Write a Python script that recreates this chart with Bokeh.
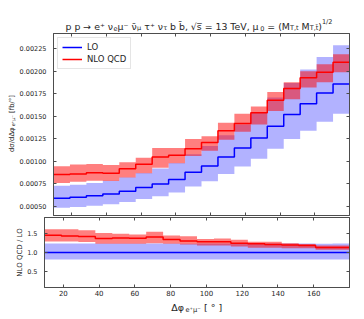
import numpy as np
from bokeh.plotting import figure
from bokeh.layouts import column, row
from bokeh.models import (Range1d, FixedTicker, LinearAxis, PrintfTickFormatter,
                          CustomJSTickFormatter, Label, Legend, LegendItem)
from bokeh.embed import file_html
from bokeh.resources import INLINE

# ---------------- data ----------------
edges = [9.47, 18.95, 28.42, 37.89, 47.37, 56.84, 66.32, 75.79, 85.26, 94.74,
         104.21, 113.68, 123.16, 132.63, 142.11, 151.58, 161.05, 170.53, 180.0]

lo = [0.000592, 0.000603, 0.000619, 0.000640, 0.000670, 0.000710, 0.000750, 0.000800, 0.000880,
      0.000950, 0.001050, 0.001150, 0.001260, 0.001390, 0.001520, 0.001640, 0.001760, 0.001860]
lo_up = [0.000730, 0.000742, 0.000762, 0.000787, 0.000824, 0.000873, 0.000923, 0.000984, 0.001080,
         0.001170, 0.001290, 0.001410, 0.001550, 0.001710, 0.001870, 0.002020, 0.002160, 0.002290]
lo_dn = [0.000486, 0.000494, 0.000508, 0.000525, 0.000549, 0.000582, 0.000615, 0.000656, 0.000722,
         0.000779, 0.000861, 0.000943, 0.001030, 0.001140, 0.001250, 0.001340, 0.001440, 0.001530]

nlo = [0.000855, 0.000860, 0.000875, 0.000870, 0.000920, 0.000970, 0.001050, 0.001070, 0.001140,
       0.001210, 0.001340, 0.001420, 0.001540, 0.001680, 0.001810, 0.001930, 0.001990, 0.002100]
nlo_up = [0.000947, 0.000965, 0.000972, 0.000960, 0.000992, 0.001040, 0.001150, 0.001150, 0.001250,
          0.001280, 0.001430, 0.001530, 0.001610, 0.001770, 0.001880, 0.002000, 0.002080, 0.002190]
nlo_dn = [0.000761, 0.000775, 0.000786, 0.000784, 0.000821, 0.000870, 0.000930, 0.000980, 0.001060,
          0.001120, 0.001240, 0.001330, 0.001410, 0.001560, 0.001690, 0.001820, 0.001880, 0.001990]

x_ticks = [20, 40, 60, 80, 100, 120, 140, 160]
y_ticks_top = [0.0005, 0.00075, 0.001, 0.00125, 0.0015, 0.00175, 0.002, 0.00225]
y_ticks_ratio = [0.5, 1.0, 1.5]

# ---------------- styling ----------------
FONT = "DejaVu Sans"
AX = "#4d4d4d"
TXT = "#262626"
BLUE = "#0000ff"
RED = "#ff0000"

CW = {' ': .318, '(': .390, ')': .390, '+': .838, ',': .318, '-': .361, '.': .318, '/': .337,
      '=': .838, 'C': .698, 'D': .770, 'L': .557, 'M': .863, 'N': .748, 'O': .787, 'Q': .787,
      'T': .611, 'V': .684, '[': .390, ']': .390, 'b': .635, 'd': .635, 'e': .615, 'f': .352,
      'p': .635, 's': .521, 't': .392, 'ν': .592, 'μ': .636, 'τ': .579, 'σ': .634, 'Δ': .684,
      'φ': .800, '→': .838, '√': .636, '⁺': .540, '⁻': .540, '°': .500, '\u0304': 0.0,
      '\u0305': 0.0}


def em(text):
    return sum(CW.get(c, .636) for c in text)


def piece_em(pieces):
    return sum(em(t) * (1.0 if k == 'n' else 0.7) for t, k in pieces)


def rich(fig, pieces, x, y, size, angle=0.0):
    pos = 0.0
    for t, k in pieces:
        fs = size if k == 'n' else size * 0.7
        shift = 0.0 if k == 'n' else (-0.22 * size if k == 'sub' else 0.40 * size)
        lead = len(t) - len(t.lstrip(' '))
        trail = len(t) - len(t.rstrip(' '))
        core = t.strip(' ')
        pos += lead * CW[' '] * fs
        if angle == 0.0:
            lx, ly = x + pos, y + shift
        else:
            lx, ly = x - shift, y + pos
        fig.add_layout(Label(x=lx, y=ly, x_units="screen", y_units="screen", text=core,
                             text_font=FONT, text_font_size=f"{fs:.2f}px", text_color=TXT,
                             angle=angle, text_align="left", text_baseline="alphabetic"))
        pos += em(core) * fs + trail * CW[' '] * fs


def axis(ticker, fmt=None, size="6.5px", standoff=7):
    if fmt is None:
        ax = LinearAxis(ticker=ticker, formatter=CustomJSTickFormatter(code="return ''"))
        ax.major_label_standoff = 0
        ax.major_label_text_font_size = "1px"
    else:
        ax = LinearAxis(ticker=ticker, formatter=fmt)
        ax.major_label_standoff = standoff
        ax.major_label_text_font_size = size
    ax.major_label_text_font = FONT
    ax.major_label_text_color = TXT
    ax.major_tick_in = 3
    ax.major_tick_out = 0
    ax.minor_tick_line_color = None
    ax.axis_line_color = AX
    ax.major_tick_line_color = AX
    ax.axis_line_width = 1
    return ax


def strip(width, height, left=0, right=0):
    f = figure(width=width, height=height, output_backend="svg", toolbar_location=None,
               x_axis_location=None, y_axis_location=None,
               min_border_left=left, min_border_right=right, min_border_top=0, min_border_bottom=0)
    f.outline_line_color = None
    f.grid.visible = False
    return f


def step(v):
    return list(v) + [v[-1]]


XR = (edges[0], edges[-1])

# ---------------- title strip ----------------
tfig = strip(364, 32, left=44, right=15)
title_pieces = [("p p → e⁺ ν", 'n'), ("e", 'sub'), ("μ⁻ ν\u0304", 'n'), ("μ", 'sub'),
                (" τ⁺ ν", 'n'), ("τ", 'sub'), (" b b\u0304, √s\u0305 = 13 TeV, μ", 'n'),
                ("0", 'sub'), (" = (M", 'n'), ("T,t", 'sub'), (" M", 'n'), ("T,t\u0304", 'sub'),
                (")", 'n'), ("1/2", 'sup')]
tsize = 267.0 / piece_em(title_pieces)
rich(tfig, title_pieces, 154.5 - piece_em(title_pieces) * tsize / 2, 6.5, tsize)

# ---------------- y-label strip ----------------
yfig = strip(16, 184)
ylab = [("dσ/dΔφ", 'n'), ("e⁺μ⁻", 'sub'), (" [fb/°]", 'n')]
ysize = 57.0 / piece_em(ylab)
rich(yfig, ylab, 11.5, 92 - piece_em(ylab) * ysize / 2, ysize, angle=np.pi / 2)

# ---------------- top panel ----------------
p = figure(width=348, height=184, x_range=Range1d(*XR), y_range=Range1d(0.0004, 0.00242),
           output_backend="svg", toolbar_location=None,
           x_axis_location=None, y_axis_location=None,
           min_border_left=28, min_border_right=15, min_border_top=1, min_border_bottom=1)
p.outline_line_color = AX
p.outline_line_width = 1
p.grid.visible = False

xt = FixedTicker(ticks=x_ticks)
yt = FixedTicker(ticks=y_ticks_top)
p.add_layout(axis(yt, PrintfTickFormatter(format="%.5f"), size="6.5px", standoff=7), "left")
p.add_layout(axis(yt), "right")
p.add_layout(axis(xt), "below")
p.add_layout(axis(xt), "above")

p.varea_step(x=edges, y1=step(lo_dn), y2=step(lo_up), step_mode="after",
             fill_color=BLUE, fill_alpha=0.3)
r_lo = p.step(x=edges, y=step(lo), mode="after", line_color=BLUE, line_width=1.5)
p.varea_step(x=edges, y1=step(nlo_dn), y2=step(nlo_up), step_mode="after",
             fill_color=RED, fill_alpha=0.5)
r_nlo = p.step(x=edges, y=step(nlo), mode="after", line_color=RED, line_width=1.5)

leg = Legend(items=[LegendItem(label="LO", renderers=[r_lo]),
                    LegendItem(label="NLO QCD", renderers=[r_nlo])],
             location="top_left")
leg.margin = 4
leg.padding = 4
leg.spacing = 2
leg.glyph_width = 20
leg.glyph_height = 10
leg.label_height = 10
leg.label_standoff = 5
leg.label_text_font = FONT
leg.label_text_font_size = "8.5px"
leg.label_text_color = TXT
leg.border_line_color = "#cccccc"
leg.border_line_width = 1
leg.background_fill_alpha = 0.9
p.add_layout(leg)

# ---------------- ratio panel ----------------
q = figure(width=364, height=82, x_range=p.x_range, y_range=Range1d(0.1, 1.9),
           output_backend="svg", toolbar_location=None,
           x_axis_location=None, y_axis_location=None,
           min_border_left=44, min_border_right=15, min_border_top=1, min_border_bottom=11)
q.outline_line_color = AX
q.outline_line_width = 1
q.grid.visible = False

rt = FixedTicker(ticks=y_ticks_ratio)
ly = axis(rt, PrintfTickFormatter(format="%.1f"), size="6.5px", standoff=7)
ly.axis_label = "NLO QCD / LO"
ly.axis_label_text_font = FONT
ly.axis_label_text_font_size = "7px"
ly.axis_label_text_font_style = "normal"
ly.axis_label_text_color = TXT
ly.axis_label_standoff = 0
q.add_layout(ly, "left")
q.add_layout(axis(rt), "right")
q.add_layout(axis(xt, PrintfTickFormatter(format="%d"), size="7px", standoff=2), "below")
q.add_layout(axis(xt), "above")

lo_a = np.array(lo)
r_c = np.array(nlo) / lo_a
r_up = np.array(nlo_up) / lo_a
r_dn = np.array(nlo_dn) / lo_a
l_c = lo_a / lo_a
l_up = np.array(lo_up) / lo_a
l_dn = np.array(lo_dn) / lo_a

q.varea_step(x=edges, y1=step(l_dn), y2=step(l_up), step_mode="after",
             fill_color=BLUE, fill_alpha=0.3)
q.step(x=edges, y=step(l_c), mode="after", line_color=BLUE, line_width=1.5)
q.varea_step(x=edges, y1=step(r_dn), y2=step(r_up), step_mode="after",
             fill_color=RED, fill_alpha=0.5)
q.step(x=edges, y=step(r_c), mode="after", line_color=RED, line_width=1.5)

# ---------------- x-label strip ----------------
xfig = strip(364, 21, left=44, right=15)
xlab = [("Δφ", 'n'), ("e⁺μ⁻", 'sub'), (" [ ° ]", 'n')]
xsize = 51.0 / piece_em(xlab)
rich(xfig, xlab, 152.3 - piece_em(xlab) * xsize / 2, 11.7, xsize)

layout = column(tfig, row(yfig, p), q, xfig)
open("out.html", "w").write(file_html(layout, INLINE))
